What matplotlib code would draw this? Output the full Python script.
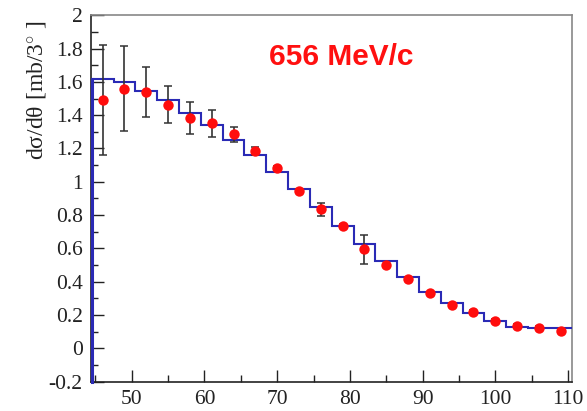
import matplotlib
matplotlib.use("Agg")
import matplotlib.pyplot as plt
from matplotlib.ticker import MultipleLocator
import numpy as np

# data
angles = [46, 49, 52, 55, 58, 61, 64, 67, 70, 73, 76, 79, 82, 85, 88, 91, 94, 97, 100, 103, 106, 109]
xsec = [1.49, 1.56, 1.54, 1.463, 1.385, 1.351, 1.287, 1.185, 1.081, 0.947, 0.835, 0.736,
        0.595, 0.498, 0.416, 0.33, 0.262, 0.218, 0.166, 0.136, 0.122, 0.104]
xsec_err = [0.33, 0.254, 0.15, 0.112, 0.097, 0.08, 0.045, 0.023, 0.012, 0.01, 0.038, 0.01,
            0.087, 0.01, 0.01, 0.01, 0.01, 0.01, 0.01, 0.01, 0.01, 0.01]
bin_edges = [44.5 + 3 * i for i in range(23)]
model = [1.62, 1.597, 1.543, 1.49, 1.415, 1.341, 1.251, 1.161, 1.061, 0.955, 0.847, 0.736,
         0.625, 0.524, 0.426, 0.34, 0.27, 0.21, 0.166, 0.13, 0.124, 0.124]
label_text = "656 MeV/c"

plt.rcParams['mathtext.fontset'] = 'custom'
plt.rcParams['mathtext.rm'] = 'Liberation Serif'
plt.rcParams['mathtext.it'] = 'Liberation Serif:italic'

fig = plt.figure(figsize=(5.87, 4.11), dpi=100)
ax = fig.add_axes([0.155, 0.0715, 0.8195, 0.8913])
ax.set_xlim(44.4, 110.55)
ax.set_ylim(-0.2, 2.0)

ymin = ax.get_ylim()[0]
ax.stairs(model, bin_edges, baseline=None, color='#2a2ab5', lw=1.5, zorder=3)
ax.plot([bin_edges[0], bin_edges[0]], [ymin, model[0]], color='#2a2ab5', lw=2.2, zorder=3,
        clip_on=False)

ax.errorbar(angles, xsec, yerr=xsec_err, fmt='none', ecolor='#333333', elinewidth=1.2,
            capsize=3, capthick=1.1, zorder=4)
ax.plot(angles, xsec, 'o', color='#ff0d0d', markersize=7.5, markeredgewidth=0, zorder=5)

ax.xaxis.set_major_locator(MultipleLocator(10))
ax.xaxis.set_minor_locator(MultipleLocator(5))
ax.yaxis.set_major_locator(MultipleLocator(0.2))
ax.yaxis.set_minor_locator(MultipleLocator(0.1))
ax.tick_params(which='both', direction='in', top=False, right=False, color='#222222')
ax.tick_params(which='major', length=9, width=1.0)
ax.tick_params(which='minor', length=5, width=1.0)
ax.tick_params(axis='both', labelsize=15.5, pad=6)
for lab in ax.get_xticklabels() + ax.get_yticklabels():
    lab.set_fontfamily('Liberation Serif')
    lab.set_color('#222222')

ax.yaxis.set_major_formatter(matplotlib.ticker.FuncFormatter(
    lambda v, p: ('%g' % round(v, 2))))

for s in ['top', 'right']:
    ax.spines[s].set_color('#888888')
for s in ['bottom', 'left']:
    ax.spines[s].set_color('#222222')
for s in ax.spines.values():
    s.set_linewidth(1.2)

ax.set_ylabel("d\u03c3/d\u03b8 [mb/3$^{\\circ}$ ]", fontsize=17, fontfamily='Liberation Serif',
              color='#222222')
ax.yaxis.set_label_coords(-0.09, 0.795)

ax.text(0.52, 0.885, label_text, transform=ax.transAxes, color='#ff1010', fontsize=21.5,
        fontweight='bold', fontfamily='Liberation Sans', ha='center', va='center')

fig.savefig('out.png', dpi=100)
